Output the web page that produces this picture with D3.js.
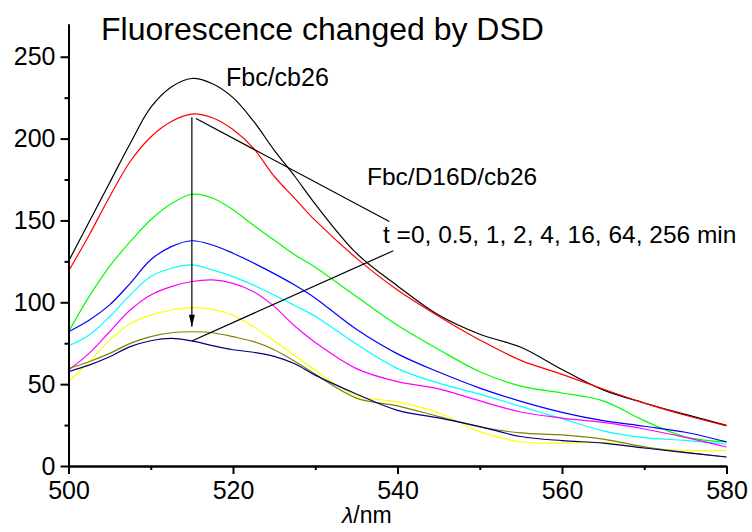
<!DOCTYPE html>
<html>
<head>
<meta charset="utf-8">
<script src="https://cdn.jsdelivr.net/npm/d3@7"></script>
<style>
  body { margin: 0; background: #fff; }
  svg { display: block; font-family: "Liberation Sans", Arial, sans-serif; }
  .axis path, .axis line { stroke: #000; stroke-width: 2; }
  .axis text { font-size: 25px; fill: #000; font-family: "Liberation Sans", Arial, sans-serif; }
</style>
</head>
<body>
<script>
var svgWidth = 752;
var svgHeight = 532;

var margin = { top: 24, right: 25.5, bottom: 66, left: 68.5 };
var width = svgWidth - margin.left - margin.right;
var height = svgHeight - margin.top - margin.bottom;

// wavelength grid (nm)
var wavelength = [500, 502.5, 505, 507.5, 510, 512.5, 515, 517.5, 520, 522.5, 525, 527.5, 530,
  535, 540, 545, 550, 555, 560, 565, 570, 575, 580];

// fluorescence readings
var fbcCb26 = [125, 149, 173, 197, 219, 231.5, 236.7, 233.5, 225, 210.6, 193, 177, 160, 130, 110, 92.2, 80.5, 72.5, 59, 46.5, 38.5, 31.5, 24.8];
var t0 = [119, 141, 164.5, 186, 201, 210.5, 215, 212.7, 205.5, 194, 177, 163.5, 150, 127, 107.5, 91.5, 77, 64.5, 56, 47, 38.4, 31, 24.5];
var t05 = [82, 103.5, 122, 137, 150.4, 160.2, 166, 163.7, 156.5, 147, 138, 129, 121.4, 103.5, 86, 71.2, 57.6, 48.8, 44.6, 39.8, 27.7, 17.8, 14.7];
var t1 = [82, 89, 98.4, 111.6, 126, 134, 137.6, 135, 130, 124, 117.5, 110.5, 102.5, 83.5, 68.5, 57.4, 47.6, 39.5, 32.8, 27.7, 24.3, 20.6, 14.7];
var t2 = [73.3, 80, 91.2, 104.5, 115.7, 120.8, 122.9, 119.8, 115.7, 110.5, 104.5, 98, 91.5, 74.5, 59.5, 50.6, 43.9, 36.4, 28.9, 21.5, 17.3, 15.6, 13.3];
var t4 = [58.6, 68.8, 82, 95.3, 104.5, 109.6, 112.7, 113.7, 111.6, 106.5, 97.5, 85.5, 75.5, 59.5, 51.5, 47.1, 39.8, 33, 29.3, 26.6, 22.6, 17.5, 11.6];
var t16 = [51.4, 63.7, 76.9, 87.1, 92.2, 95.3, 96.7, 95.7, 92, 85, 76.5, 67.5, 58.5, 43, 39.2, 32.5, 21, 14.8, 14, 14.4, 11, 9.6, 9.4];
var t64 = [59.6, 63.7, 68.8, 74.9, 79, 81.4, 82, 81.4, 79, 76, 71, 64, 56, 41.5, 36.7, 30.2, 23.9, 20.2, 19, 16.4, 11.7, 8.4, 5.5];
var t256 = [57.6, 61.6, 66.7, 72.9, 76.5, 78, 76.4, 73.5, 71, 69.5, 67, 62.5, 55.5, 44, 34, 29.4, 24.1, 18, 15.5, 14, 11, 8.2, 5.5];

var seriesList = [fbcCb26, t0, t05, t1, t2, t4, t16, t64, t256];
var seriesColors = ["#000000", "#ff0000", "#00ff00", "#0000ff", "#00ffff", "#ff00ff", "#ffff00", "#808000", "#000080"];

var xTicks = [500, 520, 540, 560, 580];
var xMinorTicks = [510, 530, 550, 570];
var yTicks = [0, 50, 100, 150, 200, 250];
var yMinorTicks = [25, 75, 125, 175, 225];

// annotation geometry in data units
var arrowLine = [[515, 213], [515, 85]];
var pointerLines = [
  [[515.5, 212.3], [539, 149.3]],
  [[515, 76.4], [539.5, 131.5]]
];

var svg = d3.select("body")
  .append("svg")
  .attr("width", svgWidth)
  .attr("height", svgHeight);

var chartGroup = svg.append("g")
  .attr("transform", `translate(${margin.left}, ${margin.top})`);

var xLinearScale = d3.scaleLinear().domain([500, 580]).range([0, width]);
var yLinearScale = d3.scaleLinear().domain([0, 270]).range([height, 0]);

// curves
var line = d3.line()
  .x((d, i) => xLinearScale(wavelength[i]))
  .y(d => yLinearScale(d))
  .curve(d3.curveCatmullRom.alpha(0.5));

chartGroup.selectAll(".curve")
  .data(seriesList)
  .enter()
  .append("path")
  .attr("class", "curve")
  .attr("d", d => line(d))
  .attr("fill", "none")
  .attr("stroke", (d, i) => seriesColors[i])
  .attr("stroke-width", 1.2);

// axes
chartGroup.append("g")
  .attr("class", "axis")
  .attr("transform", `translate(0, ${height})`)
  .call(d3.axisBottom(xLinearScale).tickValues(xMinorTicks).tickSize(4).tickSizeOuter(0).tickFormat(""));

chartGroup.append("g")
  .attr("class", "axis")
  .attr("transform", `translate(0, ${height})`)
  .call(d3.axisBottom(xLinearScale).tickValues(xTicks).tickSize(8).tickSizeOuter(0).tickPadding(7));

chartGroup.append("g")
  .attr("class", "axis")
  .call(d3.axisLeft(yLinearScale).tickValues(yMinorTicks).tickSize(4).tickSizeOuter(0).tickFormat(""));

chartGroup.append("g")
  .attr("class", "axis")
  .call(d3.axisLeft(yLinearScale).tickValues(yTicks).tickSize(8).tickSizeOuter(0).tickPadding(5));

// annotations
var segment = d3.line()
  .x(d => xLinearScale(d[0]))
  .y(d => yLinearScale(d[1]));

chartGroup.append("path")
  .attr("d", segment(arrowLine))
  .attr("stroke", "#000")
  .attr("stroke-width", 1.2)
  .attr("fill", "none");

var tipX = xLinearScale(arrowLine[1][0]);
var tipY = yLinearScale(arrowLine[1][1]);
chartGroup.append("path")
  .attr("d", `M${tipX},${tipY} L${tipX - 3},${tipY - 12} L${tipX + 3},${tipY - 12} Z`)
  .attr("fill", "#000");

chartGroup.selectAll(".pointer")
  .data(pointerLines)
  .enter()
  .append("path")
  .attr("class", "pointer")
  .attr("d", d => segment(d))
  .attr("stroke", "#000")
  .attr("stroke-width", 1.2)
  .attr("fill", "none");

// texts
svg.append("text")
  .attr("x", 101)
  .attr("y", 40)
  .attr("font-size", 32)
  .text("Fluorescence changed by DSD");

svg.append("text")
  .attr("x", 226)
  .attr("y", 86)
  .attr("font-size", 25)
  .text("Fbc/cb26");

svg.append("text")
  .attr("x", 367)
  .attr("y", 185)
  .attr("font-size", 24.5)
  .text("Fbc/D16D/cb26");

svg.append("text")
  .attr("x", 383)
  .attr("y", 243)
  .attr("font-size", 24.5)
  .text("t =0, 0.5, 1, 2, 4, 16, 64, 256 min");

var xLabel = svg.append("text")
  .attr("x", 342)
  .attr("y", 523)
  .attr("font-size", 23);
xLabel.append("tspan").attr("font-style", "italic").text("λ");
xLabel.append("tspan").text("/nm");
</script>
</body>
</html>
